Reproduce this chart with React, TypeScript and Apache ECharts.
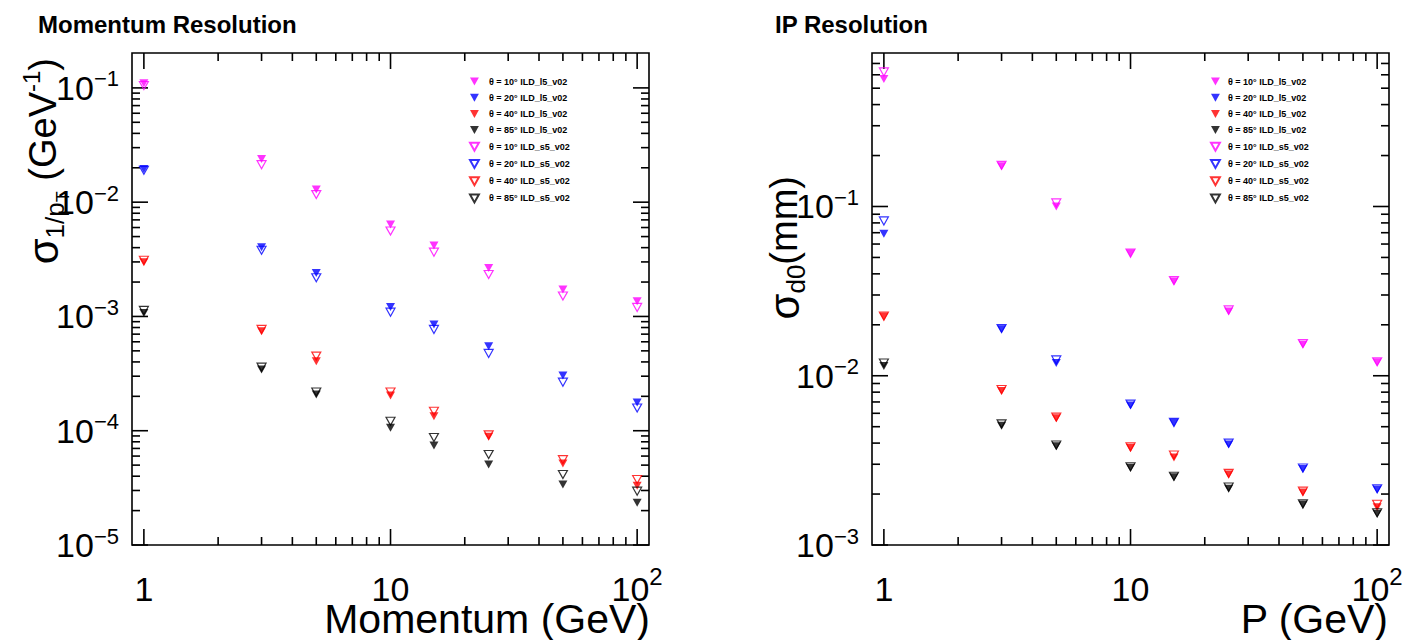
import React, { useEffect, useRef } from "react";
import * as echarts from "echarts";

// ---------------- data ----------------
const momenta = [1, 3, 5, 10, 15, 25, 50, 100];

const legendNames = [
  "θ = 10° ILD_l5_v02",
  "θ = 20° ILD_l5_v02",
  "θ = 40° ILD_l5_v02",
  "θ = 85° ILD_l5_v02",
  "θ = 10° ILD_s5_v02",
  "θ = 20° ILD_s5_v02",
  "θ = 40° ILD_s5_v02",
  "θ = 85° ILD_s5_v02",
];
const angleColors = ["#ff00ff", "#0000ff", "#ff0000", "#000000"];

// Momentum resolution sigma(1/pT) [GeV^-1]
const momL5_10 = [0.11, 0.0239, 0.0129, 0.00637, 0.00417, 0.00266, 0.00172, 0.00136];
const momL5_20 = [0.0195, 0.00404, 0.0024, 0.00121, 0.00085, 0.000548, 0.000304, 0.000177];
const momL5_40 = [0.00298, 0.000743, 0.000406, 0.000203, 0.000134, 0.0000885, 0.0000516, 0.000033];
const momL5_85 = [0.00107, 0.000343, 0.000207, 0.000106, 0.0000741, 0.0000506, 0.0000339, 0.0000234];
const momS5_10 = [0.105, 0.0213, 0.01165, 0.00559, 0.00365, 0.00233, 0.00151, 0.0012];
const momS5_20 = [0.019, 0.0038, 0.00218, 0.00109, 0.00077, 0.000475, 0.000266, 0.000158];
const momS5_40 = [0.0031, 0.00077, 0.00045, 0.000218, 0.000148, 0.000092, 0.0000558, 0.0000374];
const momS5_85 = [0.00113, 0.00036, 0.000218, 0.000121, 0.0000873, 0.0000619, 0.0000414, 0.0000296];

// IP resolution sigma(d0) [mm]
const ipL5_10 = [0.566, 0.173, 0.1, 0.0528, 0.0361, 0.024, 0.0153, 0.012];
const ipL5_20 = [0.0689, 0.0188, 0.0119, 0.00667, 0.00528, 0.00392, 0.00281, 0.00213];
const ipL5_40 = [0.0223, 0.00813, 0.0056, 0.00374, 0.00329, 0.00261, 0.00204, 0.00167];
const ipL5_85 = [0.01143, 0.00506, 0.00383, 0.00286, 0.00251, 0.00215, 0.00173, 0.00153];
const ipS5_10 = [0.624, 0.175, 0.105, 0.053, 0.0365, 0.0245, 0.0155, 0.0121];
const ipS5_20 = [0.0822, 0.019, 0.0124, 0.0068, 0.0053, 0.004, 0.00285, 0.00215];
const ipS5_40 = [0.0225, 0.0083, 0.0057, 0.0038, 0.0034, 0.00265, 0.00208, 0.00174];
const ipS5_85 = [0.0119, 0.0052, 0.0039, 0.0029, 0.00255, 0.0022, 0.00175, 0.00155];

const momSeries = [momL5_10, momL5_20, momL5_40, momL5_85, momS5_10, momS5_20, momS5_40, momS5_85];
const ipSeries = [ipL5_10, ipL5_20, ipL5_40, ipL5_85, ipS5_10, ipS5_20, ipS5_40, ipS5_85];

// axis ranges and ticks
const xRange = [0.895, 111.7];
const momYRange = [1e-5, 0.202];
const ipYRange = [1e-3, 0.807];
const xMajorTicks = [1, 10, 100];
const xMinorTicks = [2, 3, 4, 5, 6, 7, 8, 9, 20, 30, 40, 50, 60, 70, 80, 90];
const momYMajorTicks = [1e-5, 1e-4, 1e-3, 1e-2, 1e-1];
const ipYMajorTicks = [1e-3, 1e-2, 1e-1];
const minorMultipliers = [2, 3, 4, 5, 6, 7, 8, 9];

// ---------------- helpers ----------------
const FONT = '"Liberation Sans", Arial, Helvetica, sans-serif';
const TRI = "path://M0,0L10,0L5,9Z";

function minorTicksFor(decades: number[], max: number) {
  const out: number[] = [];
  decades.forEach((d) => minorMultipliers.forEach((m) => {
    const v = m * d;
    if (v < max * 0.985) out.push(v);
  }));
  return out;
}

function tickData(yMajor: number[], yMinor: number[], xRef: number, yRef: number) {
  const d: number[][] = [];
  xMajorTicks.forEach((v) => d.push([v, yRef, 0, 16]));
  xMinorTicks.forEach((v) => d.push([v, yRef, 0, 8]));
  yMajor.forEach((v) => d.push([xRef, v, 1, 16]));
  yMinor.forEach((v) => d.push([xRef, v, 1, 8]));
  return d;
}

function isPow10(v: number) {
  const l = Math.log10(v);
  return Math.abs(l - Math.round(l)) < 1e-6;
}

function xLabel(v: number) {
  if (!isPow10(v)) return "";
  const e = Math.round(Math.log10(v));
  if (e === 0) return "{b|1}";
  if (e === 1) return "{b|10}";
  return "{b|10}{s|" + (e < 0 ? "\u2212" + -e : "" + e) + "}";
}
function yLabel(v: number) {
  if (!isPow10(v)) return "";
  const e = Math.round(Math.log10(v));
  return "{b|10}{s|" + (e < 0 ? "\u2212" + -e : "" + e) + "}";
}

const xLabelStyle = {
  formatter: xLabel,
  margin: 19,
  showMinLabel: false,
  showMaxLabel: false,
  rich: {
    b: { fontSize: 34, fontFamily: FONT, color: "#000", lineHeight: 50 },
    s: { fontSize: 24, fontFamily: FONT, color: "#000", padding: [0, 0, 26, 0] },
  },
};
const yLabelStyle = {
  formatter: yLabel,
  margin: 13,
  showMinLabel: true,
  showMaxLabel: false,
  rich: {
    b: { fontSize: 34, fontFamily: FONT, color: "#000", lineHeight: 40 },
    s: { fontSize: 22, fontFamily: FONT, color: "#000", padding: [0, 0, 18, 0] },
  },
};

function renderTick(params: any, api: any) {
  const cs = params.coordSys;
  const dir = api.value(2);
  const len = api.value(3);
  const p = api.coord([api.value(0), api.value(1)]);
  const style = { stroke: "#000", lineWidth: 1.6 };
  if (dir === 0) {
    const x = p[0];
    const yb = cs.y + cs.height;
    return {
      type: "group",
      children: [
        { type: "line", shape: { x1: x, y1: yb, x2: x, y2: yb - len }, style },
        { type: "line", shape: { x1: x, y1: cs.y, x2: x, y2: cs.y + len }, style },
      ],
    };
  }
  const y = p[1];
  const xr = cs.x + cs.width;
  return {
    type: "group",
    children: [
      { type: "line", shape: { x1: cs.x, y1: y, x2: cs.x + len, y2: y }, style },
      { type: "line", shape: { x1: xr, y1: y, x2: xr - len, y2: y }, style },
    ],
  };
}

function scatterSeries(values: number[][], gridIdx: number) {
  return values.map((vals, i) => {
    const c = angleColors[i % 4];
    const filled = i < 4;
    return {
      type: "scatter",
      name: legendNames[i],
      xAxisIndex: gridIdx,
      yAxisIndex: gridIdx,
      data: momenta.map((m, k) => [m, vals[k]]),
      symbol: TRI,
      symbolSize: [9, 8],
      itemStyle: filled
        ? { color: c, borderWidth: 0 }
        : { color: "rgba(255,255,255,0)", borderColor: c, borderWidth: 1.2 },
      z: 4,
      silent: true,
    };
  });
}

function legendFor(left: number, textPad: number) {
  return {
    orient: "vertical",
    left,
    top: 77,
    itemWidth: 9,
    itemHeight: 8,
    itemGap: 7.2,
    padding: 0,
    selectedMode: false,
    data: legendNames,
    textStyle: {
      fontSize: 9,
      fontWeight: "bold",
      fontFamily: FONT,
      color: "#000",
      lineHeight: 8,
      padding: [0, 0, 0, textPad],
    },
  };
}

export default function App() {
  const ref = useRef<HTMLDivElement>(null);

  useEffect(() => {
    if (!ref.current) return;
    const chart = echarts.init(ref.current, undefined, { renderer: "svg" });

    const momMinor = minorTicksFor([1e-5, 1e-4, 1e-3, 1e-2, 1e-1], momYRange[1]);
    const ipMinor = minorTicksFor([1e-3, 1e-2, 1e-1], ipYRange[1]);

    const gridCommon = {
      top: 53,
      width: 517,
      height: 492,
      show: true,
      borderColor: "#000",
      borderWidth: 1.6,
      backgroundColor: "transparent",
    };

    const xAxisCommon = {
      type: "log",
      logBase: 10,
      min: xRange[0],
      max: xRange[1],
      axisLine: { show: false },
      axisTick: { show: false },
      splitLine: { show: false },
      axisLabel: xLabelStyle,
    };
    const yAxisCommon = {
      type: "log",
      logBase: 10,
      axisLine: { show: false },
      axisTick: { show: false },
      splitLine: { show: false },
      axisLabel: yLabelStyle,
    };

    const option: any = {
      animation: false,
      backgroundColor: "#ffffff",
      grid: [
        { ...gridCommon, left: 132 },
        { ...gridCommon, left: 872 },
      ],
      xAxis: [
        { ...xAxisCommon, gridIndex: 0 },
        { ...xAxisCommon, gridIndex: 1 },
      ],
      yAxis: [
        { ...yAxisCommon, gridIndex: 0, min: momYRange[0], max: momYRange[1] },
        { ...yAxisCommon, gridIndex: 1, min: ipYRange[0], max: ipYRange[1] },
      ],
      legend: [legendFor(469, 5), legendFor(1210, 3)],
      series: [
        {
          type: "custom",
          name: "ticks0",
          xAxisIndex: 0,
          yAxisIndex: 0,
          data: tickData(momYMajorTicks, momMinor, 10, 1e-3),
          encode: { x: 0, y: 1 },
          renderItem: renderTick,
          clip: false,
          silent: true,
          z: 3,
        },
        {
          type: "custom",
          name: "ticks1",
          xAxisIndex: 1,
          yAxisIndex: 1,
          data: tickData(ipYMajorTicks, ipMinor, 10, 1e-2),
          encode: { x: 0, y: 1 },
          renderItem: renderTick,
          clip: false,
          silent: true,
          z: 3,
        },
        ...scatterSeries(momSeries, 0),
        ...scatterSeries(ipSeries, 1),
      ],
      graphic: [
        {
          type: "text",
          x: 38,
          y: 24,
          style: { text: "Momentum Resolution", font: "bold 24px " + FONT, fill: "#000", verticalAlign: "middle" },
        },
        {
          type: "text",
          x: 775,
          y: 24,
          style: { text: "IP Resolution", font: "bold 24px " + FONT, fill: "#000", verticalAlign: "middle" },
        },
        {
          type: "text",
          x: 650,
          y: 619,
          style: { text: "Momentum (GeV)", font: "41px " + FONT, fill: "#000", align: "right", verticalAlign: "middle" },
        },
        {
          type: "text",
          x: 1388,
          y: 619,
          style: { text: "P (GeV)", font: "41px " + FONT, fill: "#000", align: "right", verticalAlign: "middle" },
        },
        {
          type: "text",
          x: 43,
          y: 58,
          rotation: Math.PI / 2,
          style: {
            text: "{sig|σ}{sub|1/p}{subT|T}{m| (GeV}{sup|-1}{m|)}",
            align: "right",
            verticalAlign: "middle",
            fill: "#000",
            font: "38px " + FONT,
            rich: {
              sig: { fontSize: 42, fontFamily: FONT, fill: "#000" },
              sub: { fontSize: 26, fontFamily: FONT, fill: "#000", padding: [24, 0, 0, 0] },
              subT: { fontSize: 18, fontFamily: FONT, fill: "#000", padding: [40, 0, 0, 0] },
              m: { fontSize: 38, fontFamily: FONT, fill: "#000" },
              sup: { fontSize: 24, fontFamily: FONT, fill: "#000", padding: [0, 0, 24, 0] },
            },
          },
        },
        {
          type: "text",
          x: 784,
          y: 176,
          rotation: Math.PI / 2,
          style: {
            text: "{sig|σ}{sub|d0}{m|(mm)}",
            align: "right",
            verticalAlign: "middle",
            fill: "#000",
            font: "38px " + FONT,
            rich: {
              sig: { fontSize: 42, fontFamily: FONT, fill: "#000" },
              sub: { fontSize: 26, fontFamily: FONT, fill: "#000", padding: [24, 0, 0, 0] },
              m: { fontSize: 38, fontFamily: FONT, fill: "#000" },
            },
          },
        },
      ],
    };

    chart.setOption(option);
    return () => chart.dispose();
  }, []);

  return (
    <div
      ref={ref}
      style={{ position: "fixed", left: 0, top: 0, width: 1409, height: 640, background: "#fff" }}
    />
  );
}
